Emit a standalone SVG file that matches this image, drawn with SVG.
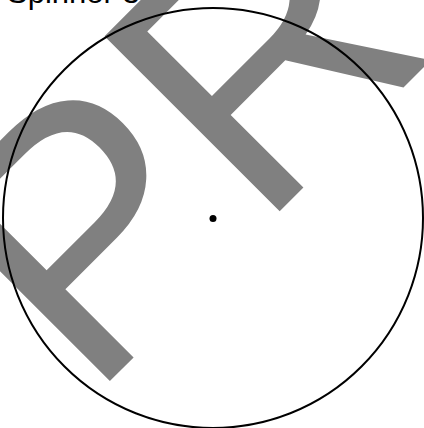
<svg xmlns="http://www.w3.org/2000/svg" width="424" height="428" viewBox="0 0 424 428">
<style>
.wm{font-family:"Liberation Sans",Arial,sans-serif;font-size:360px;fill:#808080}
.title{font-family:"Liberation Sans",Arial,sans-serif;font-size:31px;fill:#000}
.ring{fill:none;stroke:#000;stroke-width:2}
</style>
<rect width="424" height="428" fill="#fff"/>
<g id="watermark"><text class="wm" x="89" y="402" transform="rotate(-45 89 402)">PR</text></g>
<g id="title"><text class="title" x="7" y="3">Spinner 3</text></g>
<g id="spinner">
<circle class="ring" cx="213" cy="218" r="210"/>
<circle cx="213" cy="218.5" r="3.5" fill="#000"/>
</g>
<g id="connectors"/>
</svg>
